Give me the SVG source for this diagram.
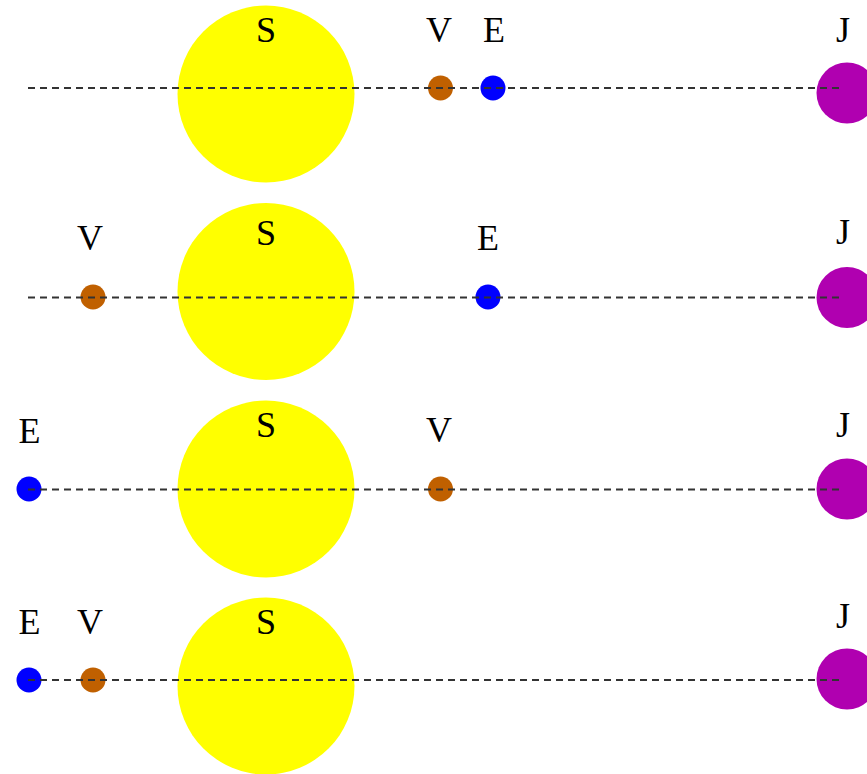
<svg xmlns="http://www.w3.org/2000/svg" width="867" height="774" viewBox="0 0 867 774">
<style>
.lbl{font-family:"Liberation Serif","Times New Roman",serif;font-size:36px;fill:#000;text-anchor:middle}
.sun{fill:#ffff00}
.ven{fill:#c06000}
.ear{fill:#0000ff}
.jup{fill:#b000b0}
.orbit{stroke:#333;stroke-width:2;stroke-dasharray:7 5;fill:none}
</style>
<rect width="867" height="774" fill="#fff"/>
<!-- Row 1 -->
<g id="sun1"><circle class="sun" cx="266" cy="94" r="88.5"/><text class="lbl" x="266" y="42">S</text></g>
<g id="venus1"><circle class="ven" cx="440.5" cy="88" r="12.5"/><text class="lbl" x="439" y="42">V</text></g>
<g id="earth1"><circle class="ear" cx="493" cy="88" r="12.5"/><text class="lbl" x="494" y="42">E</text></g>
<g id="jupiter1"><circle class="jup" cx="847" cy="93" r="30.5"/><text class="lbl" x="843" y="42">J</text></g>
<!-- Row 2 -->
<g id="sun2"><circle class="sun" cx="266" cy="291.5" r="88.5"/><text class="lbl" x="266" y="245">S</text></g>
<g id="venus2"><circle class="ven" cx="93" cy="297" r="12.5"/><text class="lbl" x="90" y="250">V</text></g>
<g id="earth2"><circle class="ear" cx="488" cy="297" r="12.5"/><text class="lbl" x="488" y="250">E</text></g>
<g id="jupiter2"><circle class="jup" cx="847" cy="297.5" r="30.5"/><text class="lbl" x="843" y="244">J</text></g>
<!-- Row 3 -->
<g id="sun3"><circle class="sun" cx="266" cy="489" r="88.5"/><text class="lbl" x="266" y="437">S</text></g>
<g id="earth3"><circle class="ear" cx="29" cy="489" r="12.5"/><text class="lbl" x="29.5" y="443">E</text></g>
<g id="venus3"><circle class="ven" cx="440.5" cy="489" r="12.5"/><text class="lbl" x="439" y="442">V</text></g>
<g id="jupiter3"><circle class="jup" cx="847" cy="489" r="30.5"/><text class="lbl" x="843" y="437">J</text></g>
<!-- Row 4 -->
<g id="sun4"><circle class="sun" cx="266" cy="686" r="88.5"/><text class="lbl" x="266" y="634">S</text></g>
<g id="earth4"><circle class="ear" cx="29" cy="680" r="12.5"/><text class="lbl" x="29.5" y="634">E</text></g>
<g id="venus4"><circle class="ven" cx="93" cy="680" r="12.5"/><text class="lbl" x="90" y="634">V</text></g>
<g id="jupiter4"><circle class="jup" cx="847" cy="679" r="30.5"/><text class="lbl" x="843" y="628">J</text></g>
<g id="connectors">
<line class="orbit" x1="28" y1="88" x2="843" y2="88"/>
<line class="orbit" x1="28" y1="297.5" x2="843" y2="297.5"/>
<line class="orbit" x1="28" y1="489.5" x2="843" y2="489.5"/>
<line class="orbit" x1="28" y1="680" x2="843" y2="680"/>
</g>
</svg>
